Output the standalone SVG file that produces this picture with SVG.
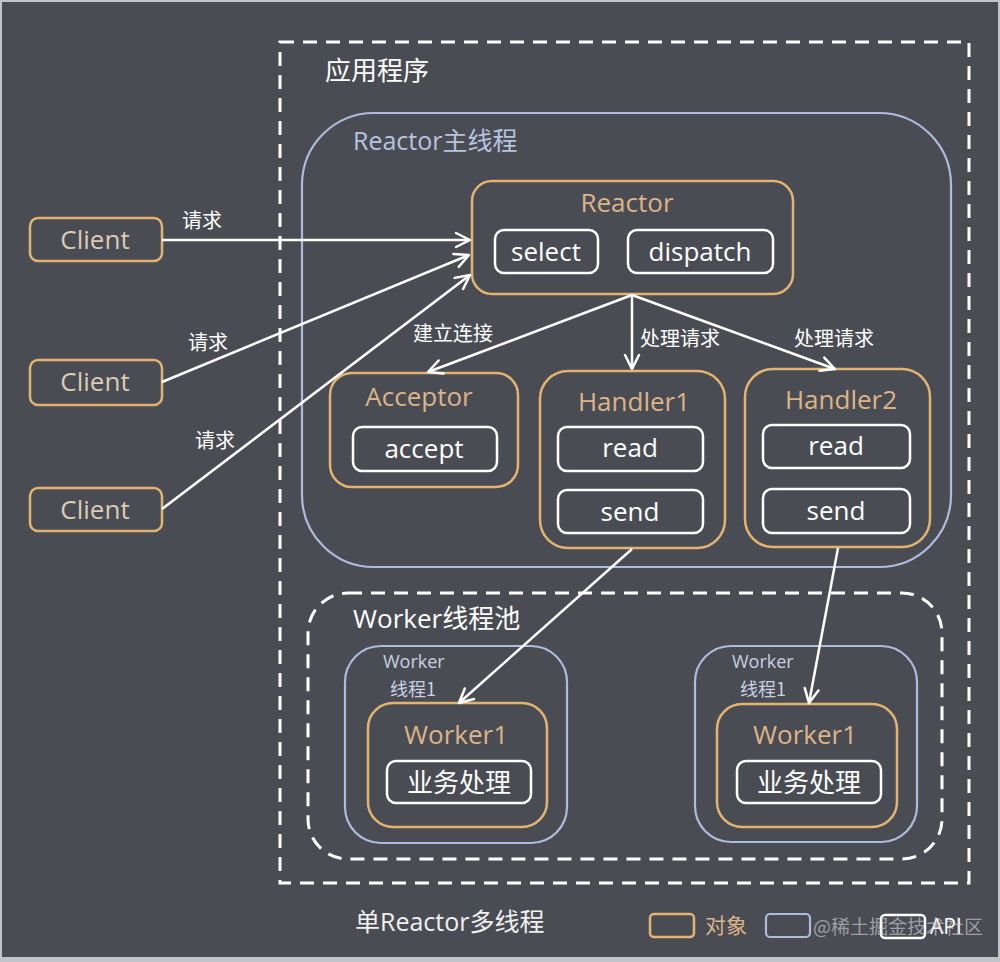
<svg xmlns="http://www.w3.org/2000/svg" width="1000" height="962" viewBox="0 0 1000 962">
<defs>
<style>
.t{font-family:"Open Sans","Noto Sans CJK SC",sans-serif;}
.cjk{font-family:"Noto Sans CJK SC","Open Sans",sans-serif;}
.obj{fill:none;stroke:#e3b46f;stroke-width:2.5;}
.thr{fill:none;stroke:#aebcdc;stroke-width:2.2;}
.api{fill:none;stroke:#ffffff;stroke-width:2.5;}
.dash{fill:none;stroke:#ffffff;stroke-width:3;stroke-dasharray:14 9;}
.title{fill:#dcb487;font-size:26px;text-anchor:middle;}
.lbl{fill:#ffffff;font-size:26px;text-anchor:middle;}
.cli{fill:#dccbb4;font-size:26px;text-anchor:middle;}
.edge{fill:#ffffff;font-size:20px;}
.conn{fill:none;stroke:#ffffff;stroke-width:2.5;}
.small{fill:#c9d0e0;font-size:18px;}
</style>
<marker id="arr" markerUnits="userSpaceOnUse" markerWidth="20" markerHeight="20" refX="0" refY="0" viewBox="-16 -10 20 20" orient="auto" overflow="visible">
<path d="M-14,-7 L0,0 L-14,7" fill="none" stroke="#ffffff" stroke-width="2.5" stroke-linecap="round" stroke-linejoin="round"/>
</marker>
</defs>
<rect x="0" y="0" width="1000" height="962" fill="#c2c4ca"/>
<rect x="2" y="2" width="996" height="955" fill="#4a4c54"/>

<g id="app">
<rect class="dash" x="280" y="42" width="689" height="841"/>
<text class="cjk" x="325" y="80" font-size="26" fill="#ffffff">应用程序</text>
</g>

<g id="reactor-thread">
<rect class="thr" x="302" y="113" width="649" height="454" rx="72" stroke="#a9bde2"/>
<text class="t" x="353" y="150" font-size="25" fill="#b7c4df">Reactor主线程</text>
</g>

<g id="worker-pool">
<rect class="dash" x="308" y="593" width="634" height="266" rx="40"/>
<text class="t" x="353" y="628" font-size="26" fill="#ffffff">Worker线程池</text>
</g>

<g id="client1">
<rect class="obj" x="30" y="218" width="132" height="43" rx="8"/>
<text class="t cli" x="95" y="249">Client</text>
</g>
<g id="client2">
<rect class="obj" x="30" y="360" width="132" height="45" rx="8"/>
<text class="t cli" x="95" y="391">Client</text>
</g>
<g id="client3">
<rect class="obj" x="30" y="488" width="132" height="43" rx="8"/>
<text class="t cli" x="95" y="519">Client</text>
</g>

<g id="reactor">
<rect class="obj" x="472" y="181" width="321" height="113" rx="20"/>
<text class="t title" x="627" y="212">Reactor</text>
<rect class="api" x="495" y="230" width="103" height="43" rx="9"/>
<text class="t lbl" x="546" y="261">select</text>
<rect class="api" x="628" y="230" width="145" height="43" rx="9"/>
<text class="t lbl" x="700" y="261">dispatch</text>
</g>

<g id="acceptor">
<rect class="obj" x="330" y="373" width="188" height="114" rx="22"/>
<text class="t title" x="419" y="406">Acceptor</text>
<rect class="api" x="353" y="427" width="144" height="44" rx="9"/>
<text class="t lbl" x="424" y="458">accept</text>
</g>

<g id="handler1">
<rect class="obj" x="540" y="371" width="185" height="177" rx="28"/>
<text class="t title" x="634" y="411">Handler1</text>
<rect class="api" x="558" y="427" width="145" height="44" rx="9"/>
<text class="t lbl" x="630" y="457">read</text>
<rect class="api" x="558" y="490" width="145" height="43" rx="9"/>
<text class="t lbl" x="630" y="521">send</text>
</g>

<g id="handler2">
<rect class="obj" x="745" y="369" width="185" height="178" rx="28"/>
<text class="t title" x="841" y="409">Handler2</text>
<rect class="api" x="763" y="425" width="147" height="43" rx="9"/>
<text class="t lbl" x="836" y="455">read</text>
<rect class="api" x="763" y="489" width="147" height="44" rx="9"/>
<text class="t lbl" x="836" y="520">send</text>
</g>

<g id="worker-thread1">
<rect class="thr" x="345" y="646" width="222" height="197" rx="36" stroke="#b6c0d8"/>
<text class="t small" x="383" y="668">Worker</text>
<text class="cjk small" x="390" y="696">线程1</text>
</g>
<g id="worker1">
<rect class="obj" x="368" y="703" width="179" height="124" rx="25"/>
<text class="t title" x="456" y="744">Worker1</text>
<rect class="api" x="387" y="761" width="144" height="42" rx="9"/>
<text class="cjk lbl" x="459" y="792">业务处理</text>
</g>

<g id="worker-thread2">
<rect class="thr" x="695" y="646" width="222" height="196" rx="36" stroke="#b6c0d8"/>
<text class="t small" x="732" y="668">Worker</text>
<text class="cjk small" x="740" y="696">线程1</text>
</g>
<g id="worker2">
<rect class="obj" x="717" y="704" width="180" height="123" rx="25"/>
<text class="t title" x="805" y="744">Worker1</text>
<rect class="api" x="737" y="761" width="144" height="42" rx="9"/>
<text class="cjk lbl" x="809" y="792">业务处理</text>
</g>

<g id="connectors">
<line class="conn" x1="162" y1="240" x2="470" y2="240" marker-end="url(#arr)"/>
<line class="conn" x1="162" y1="382" x2="469" y2="255" marker-end="url(#arr)"/>
<line class="conn" x1="162" y1="509" x2="470" y2="275" marker-end="url(#arr)"/>
<line class="conn" x1="632" y1="295" x2="428" y2="372" marker-end="url(#arr)"/>
<line class="conn" x1="632" y1="295" x2="632" y2="369" marker-end="url(#arr)"/>
<line class="conn" x1="632" y1="295" x2="835" y2="369" marker-end="url(#arr)"/>
<line class="conn" x1="632" y1="549" x2="459" y2="703" marker-end="url(#arr)"/>
<line class="conn" x1="838" y1="548" x2="809" y2="703" marker-end="url(#arr)"/>
<text class="cjk edge" x="182" y="228">请求</text>
<text class="cjk edge" x="188" y="350">请求</text>
<text class="cjk edge" x="195" y="448">请求</text>
<text class="cjk edge" x="413" y="341">建立连接</text>
<text class="cjk edge" x="640" y="346">处理请求</text>
<text class="cjk edge" x="794" y="346">处理请求</text>
</g>

<g id="caption">
<text class="t" x="355" y="931" font-size="25" fill="#f0f0f0">单Reactor多线程</text>
</g>

<g id="legend">
<rect class="obj" x="650" y="914" width="44" height="23" rx="4"/>
<text class="cjk" x="705" y="933" font-size="21" fill="#dcb487">对象</text>
<rect class="thr" x="766" y="914" width="44" height="23" rx="4" stroke="#c4cbe0"/>
<rect class="api" x="881" y="915" width="44" height="23" rx="4"/>
<text class="t" x="930" y="934" font-size="21" fill="#ffffff">API</text>
<text class="cjk" x="813" y="934" font-size="19" fill="#d8d8dc" fill-opacity="0.6">@稀土掘金技术社区</text>
</g>
</svg>
